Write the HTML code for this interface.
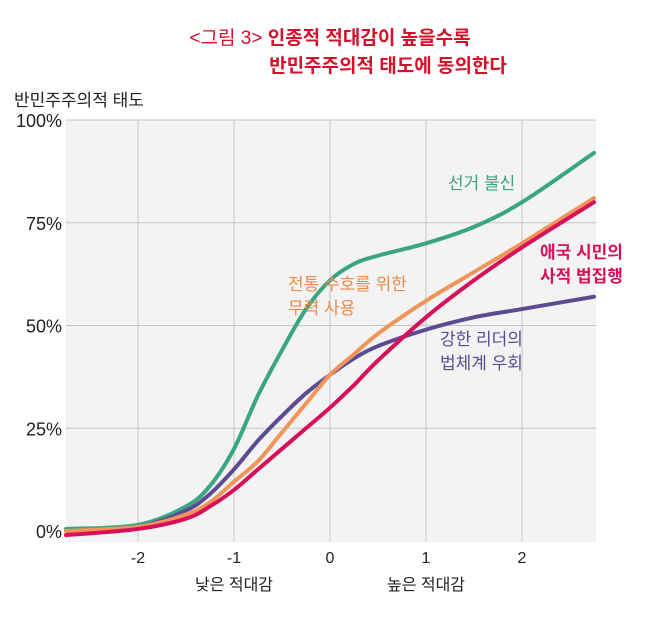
<!DOCTYPE html>
<html><head><meta charset="utf-8"><style>
body{margin:0;background:#fff;width:658px;height:615px;overflow:hidden}
text{font-family:"Liberation Sans","Noto Sans CJK KR",sans-serif}
</style></head><body>
<svg width="658" height="615">
<text x="330" y="44" text-anchor="middle" font-size="19" font-weight="bold" fill="#d4102a"><tspan font-weight="normal">&lt;그림 3&gt;</tspan> 인종적 적대감이 높을수록</text>
<text x="388" y="72" text-anchor="middle" font-size="19" font-weight="bold" fill="#d4102a">반민주주의적 태도에 동의한다</text>
<text x="14" y="106" font-size="17" fill="#222">반민주주의적 태도</text>
<rect x="66" y="120" width="530" height="422" fill="#f3f3f3"/>
<g id="grid"></g><g id="series"></g>
<text x="234" y="590" text-anchor="middle" font-size="16" fill="#222">낮은 적대감</text>
<text x="426" y="590" text-anchor="middle" font-size="16" fill="#222">높은 적대감</text>
<text x="448" y="189" font-size="17" fill="#3aa582">선거 불신</text>
<text x="288" y="290" font-size="17" fill="#ee8a4a"><tspan x="288">전통 수호를 위한</tspan><tspan x="288" dy="24">무력 사용</tspan></text>
<text x="540" y="258" font-size="17" font-weight="bold" fill="#d8105a"><tspan x="540">애국 시민의</tspan><tspan x="540" dy="24">사적 법집행</tspan></text>
<text x="440" y="345" font-size="17" fill="#5c4b92"><tspan x="440">강한 리더의</tspan><tspan x="440" dy="24">법체계 우회</tspan></text>
</svg>
<script>
const xs=[-2.75,-2,-1.5,-1.25,-1,-0.75,-0.5,-0.25,0,0.25,0.5,1,1.5,2,2.75];
const green=[0.5,1.5,6,11,20,33,44,54,61,65,67,70,74,80,92];
const orange=[0,1,4,7,12,17,24,31,38,43,48,56,63,70,81];
const purple=[0,1,5,9,15,22,28,33.5,38,42,45,49,52,54,57];
const red=[-1,0.5,3,6,10,15,20,25,30,35.5,41.5,52,61,69,80];
const xTicks=[-2,-1,0,1,2];
const yTicks=[0,25,50,75,100];
const X=v=>330+96*v, Y=v=>531-4.11*v;
const NS="http://www.w3.org/2000/svg";
const grid=document.getElementById('grid');
xTicks.forEach(t=>{
 const l=document.createElementNS(NS,'line');
 l.setAttribute('x1',X(t));l.setAttribute('x2',X(t));l.setAttribute('y1',120);l.setAttribute('y2',542);
 l.setAttribute('stroke','#c4c4c4');l.setAttribute('stroke-width','1');
 
 
 grid.appendChild(l);
 const tx=document.createElementNS(NS,'text');
 tx.setAttribute('x',X(t));tx.setAttribute('y',563);tx.setAttribute('text-anchor','middle');tx.setAttribute('font-size','16');tx.setAttribute('fill','#222');
 tx.textContent=t;
 
 
 grid.appendChild(tx);
});
yTicks.forEach(t=>{
 if(t>0){const l=document.createElementNS(NS,'line');
 l.setAttribute('x1',66);l.setAttribute('x2',596);l.setAttribute('y1',Y(t));l.setAttribute('y2',Y(t));
 l.setAttribute('stroke','#c4c4c4');l.setAttribute('stroke-width','1');
 
 
 grid.appendChild(l);}
 const tx=document.createElementNS(NS,'text');
 tx.setAttribute('x',62);tx.setAttribute('y',Y(t)+7);tx.setAttribute('text-anchor','end');tx.setAttribute('font-size','18');tx.setAttribute('fill','#222');
 tx.textContent=t+'%';
 
 
 grid.appendChild(tx);
});
function path(vals){
 const p=xs.map((x,i)=>[X(x),Y(vals[i])]);
 let d='M'+p[0][0]+','+p[0][1];
 for(let i=0;i<p.length-1;i++){
  const p0=p[i-1]||p[i],p1=p[i],p2=p[i+1],p3=p[i+2]||p2;
  const c1=[p1[0]+(p2[0]-p0[0])/6,p1[1]+(p2[1]-p0[1])/6];
  const c2=[p2[0]-(p3[0]-p1[0])/6,p2[1]-(p3[1]-p1[1])/6];
  d+=` C${c1[0]},${c1[1]} ${c2[0]},${c2[1]} ${p2[0]},${p2[1]}`;
 }
 return d;
}
const sg=document.getElementById('series');
[[green,'#3aa582','line-election-distrust'],[purple,'#5c4b92','line-strong-leader'],[orange,'#f0955a','line-force-tradition'],[red,'#d8105a','line-vigilante']].forEach(s=>{
 const e=document.createElementNS(NS,'path');
 e.setAttribute('d',path(s[0]));e.setAttribute('fill','none');e.setAttribute('stroke',s[1]);e.setAttribute('stroke-width','4');e.setAttribute('stroke-linecap','round');
 
 
 sg.appendChild(e);
});
</script>
</body></html>
